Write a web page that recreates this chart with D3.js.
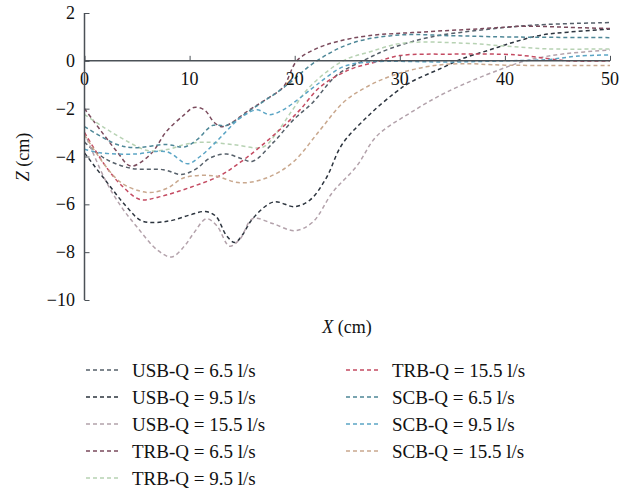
<!DOCTYPE html>
<html>
<head>
<meta charset="utf-8">
<script src="https://cdn.jsdelivr.net/npm/d3@7"></script>
<style>
  body { margin: 0; background: #fff; }
  svg text { font-family: "Liberation Serif", "Times New Roman", serif; fill: #111; }
</style>
</head>
<body>
<div class="container"></div>
<script>
// series: [X (cm), Z (cm)]
var usb65 = [[0,-3.4],[2,-4.1],[4.5,-4.5],[7.5,-4.55],[9.2,-4.75],[10.5,-4.55],[12,-4.05],[13.5,-3.9],[15,-4.1],[16,-4.2],[18,-3.4],[19.8,-2.5],[21.7,-1.75],[24,-0.6],[26.5,0],[29,0.5],[33,1.0],[38,1.3],[43,1.5],[50,1.6]];
var usb95 = [[0,-3.85],[2,-5.0],[4,-6.1],[5.5,-6.7],[8,-6.7],[10,-6.45],[11.5,-6.3],[12.5,-6.5],[13.5,-7.3],[14.3,-7.6],[15,-7.3],[16,-6.6],[18,-5.9],[20,-6.1],[21.5,-5.8],[23,-4.9],[24.5,-3.5],[27,-2.3],[29.5,-1.35],[31,-0.9],[34,-0.3],[36,0.1],[38.5,0.45],[41,0.8],[43.5,1.08],[46,1.2],[50,1.33]];
var usb155 = [[0,-3.0],[2,-5.0],[3.5,-6.1],[5,-6.95],[6.9,-7.9],[8.3,-8.2],[9.5,-7.75],[10.4,-7.2],[11.6,-6.6],[12.6,-6.9],[13.8,-7.75],[14.8,-7.45],[16,-6.6],[17.9,-6.8],[20,-7.1],[21.7,-6.75],[23.6,-5.5],[25.9,-4.4],[27.8,-3.15],[30.9,-2.2],[34.5,-1.3],[39.5,-0.37],[42.3,0.04],[45.8,0.3],[50,0.45]];
var trb65 = [[0,-2.0],[1.6,-2.95],[3.1,-3.8],[4.4,-4.4],[6.3,-3.9],[7.8,-2.95],[9.5,-2.25],[10.4,-1.95],[11.4,-2.05],[12.4,-2.6],[13.2,-2.75],[15.7,-2.05],[17.3,-1.6],[18.9,-1.1],[20.2,0],[22,0.5],[24,0.8],[27,1.05],[32,1.2],[38,1.35],[42,1.45],[46,1.4],[50,1.35]];
var trb95 = [[0,-2.25],[1.9,-2.8],[3.8,-3.3],[6,-3.75],[8,-3.7],[9.5,-3.5],[11.4,-3.4],[14.1,-3.5],[17,-3.6],[18.3,-3.0],[19.8,-2.05],[21.4,-1.1],[24.6,0],[27.1,0.37],[30.3,0.74],[36,0.74],[40,0.62],[44,0.5],[50,0.5]];
var trb155 = [[0,-3.0],[2,-4.4],[3.5,-5.2],[5.3,-5.8],[7,-5.7],[10,-5.3],[12.9,-4.8],[14.8,-4.25],[16.7,-3.6],[18.9,-2.75],[20.5,-2.05],[22.4,-1.1],[25.2,-0.37],[27.8,-0.04],[30,0.22],[35,0.28],[41,0.25],[44,0.1],[46,0],[50,0]];
var scb65 = [[0,-2.75],[3.1,-3.5],[4.7,-3.63],[7.8,-3.5],[9.5,-3.6],[10.7,-3.3],[12.2,-2.7],[13.5,-2.7],[16,-2.0],[19,-1.1],[22.1,0],[25.5,0.75],[30,1.08],[35,1.05],[40,1.0],[50,0.97]];
var scb95 = [[0,-3.7],[1.6,-3.85],[4.7,-3.9],[7.8,-3.8],[9.8,-4.3],[11,-4.0],[12.5,-3.4],[14.8,-2.4],[16.4,-2.05],[17.6,-2.25],[18.9,-2.05],[20.5,-1.55],[22.1,-1.0],[24.6,-0.25],[27.1,-0.05],[35,-0.05],[40,0],[44,0.05],[47,0.2],[50,0.25]];
var scb155 = [[0,-3.1],[2,-4.4],[3.5,-5.1],[5.3,-5.45],[6.5,-5.5],[8,-5.3],[9.4,-4.9],[12.2,-4.8],[14.8,-5.1],[17.3,-4.9],[19.8,-4.25],[22.4,-2.9],[24.6,-1.75],[26.8,-1.1],[29.4,-0.6],[32.5,-0.25],[35.7,-0.12],[40,-0.18],[50,-0.2]];

var seriesNames = ['USB-Q = 6.5 l/s', 'USB-Q = 9.5 l/s', 'USB-Q = 15.5 l/s',
    'TRB-Q = 6.5 l/s', 'TRB-Q = 9.5 l/s', 'TRB-Q = 15.5 l/s',
    'SCB-Q = 6.5 l/s', 'SCB-Q = 9.5 l/s', 'SCB-Q = 15.5 l/s'];
var seriesData = [usb65, usb95, usb155, trb65, trb95, trb155, scb65, scb95, scb155];
var seriesColors = ['#56606a', '#2c343e', '#b3a2ab', '#7a4a5c', '#b7d2b3', '#c44b62', '#4e8797', '#5ba5c5', '#c9a88e'];

var xTicks = [0, 10, 20, 30, 40, 50];
var yTicks = [2, 0, -2, -4, -6, -8, -10];

var drawChart = function () {
    const WIDTH = 634;
    const HEIGHT = 490;
    const AXIS_COLOR = '#4b5157';

    var svg = d3.select('.container')
        .append('svg')
        .attr('width', WIDTH)
        .attr('height', HEIGHT);

    var x = d3.scaleLinear().domain([0, 50]).range([84.5, 610]);
    var y = d3.scaleLinear().domain([-10, 2]).range([300, 13]);

    // curves first, axes drawn on top
    var line = d3.line()
        .x(function (d) { return x(d[0]); })
        .y(function (d) { return y(d[1]); })
        .curve(d3.curveCatmullRom.alpha(0.5));

    svg.append('g')
        .selectAll('path')
        .data(seriesData)
        .enter()
        .append('path')
        .attr('d', line)
        .style('fill', 'none')
        .style('stroke', function (d, i) { return seriesColors[i]; })
        .style('stroke-width', 1.5)
        .style('stroke-dasharray', '4,3');

    // x axis sits on Z = 0
    var xAxis = svg.append('g')
        .attr('transform', 'translate(0,' + y(0) + ')')
        .call(d3.axisTop(x).tickValues(xTicks).tickSize(5).tickFormat(''));
    xAxis.select('.domain').attr('d', 'M' + x(0) + ',0H' + x(50));
    xAxis.selectAll('line, path').style('stroke', AXIS_COLOR).style('stroke-width', 1.5);
    xAxis.selectAll('.tick line').style('stroke-width', 1);

    svg.append('g')
        .selectAll('text')
        .data(xTicks)
        .enter()
        .append('text')
        .attr('x', function (d) { return x(d); })
        .attr('y', y(0) + 24)
        .attr('text-anchor', 'middle')
        .style('font-size', '18px')
        .text(function (d) { return d; });

    var yAxis = svg.append('g')
        .attr('transform', 'translate(' + x(0) + ',0)')
        .call(d3.axisRight(y).tickValues(yTicks).tickSize(5).tickFormat(''));
    yAxis.select('.domain').attr('d', 'M0,' + y(2) + 'V' + y(-10));
    yAxis.selectAll('line, path').style('stroke', AXIS_COLOR).style('stroke-width', 1.5);
    yAxis.selectAll('.tick line').style('stroke-width', 1);

    svg.append('g')
        .selectAll('text')
        .data(yTicks)
        .enter()
        .append('text')
        .attr('x', 75)
        .attr('y', function (d) { return y(d) + 6; })
        .attr('text-anchor', 'end')
        .style('font-size', '18px')
        .text(function (d) { return d < 0 ? '\u2212' + Math.abs(d) : d; });

    // axis titles
    var zLabel = svg.append('text')
        .attr('transform', 'translate(29,157) rotate(-90)')
        .attr('text-anchor', 'middle')
        .style('font-size', '18px');
    zLabel.append('tspan').style('font-style', 'italic').text('Z');
    zLabel.append('tspan').text(' (cm)');

    var xLabel = svg.append('text')
        .attr('x', 347)
        .attr('y', 333)
        .attr('text-anchor', 'middle')
        .style('font-size', '18px');
    xLabel.append('tspan').style('font-style', 'italic').text('X');
    xLabel.append('tspan').text(' (cm)');

    // legend, two columns
    var legend = svg.append('g')
        .selectAll('g')
        .data(seriesNames)
        .enter()
        .append('g')
        .attr('transform', function (d, i) {
            var col = i < 5 ? 0 : 1;
            var row = i < 5 ? i : i - 5;
            return 'translate(' + (col ? 346 : 86) + ',' + (370 + row * 27) + ')';
        });

    legend.append('line')
        .attr('x1', 0)
        .attr('x2', 33)
        .attr('y1', 0)
        .attr('y2', 0)
        .style('stroke', function (d, i) { return seriesColors[i]; })
        .style('stroke-width', 1.5)
        .style('stroke-dasharray', '4,3');

    legend.append('text')
        .attr('x', 46)
        .attr('y', 6.5)
        .style('font-size', '19px')
        .text(function (d) { return d; });
};
window.onload = drawChart;
</script>
</body>
</html>
